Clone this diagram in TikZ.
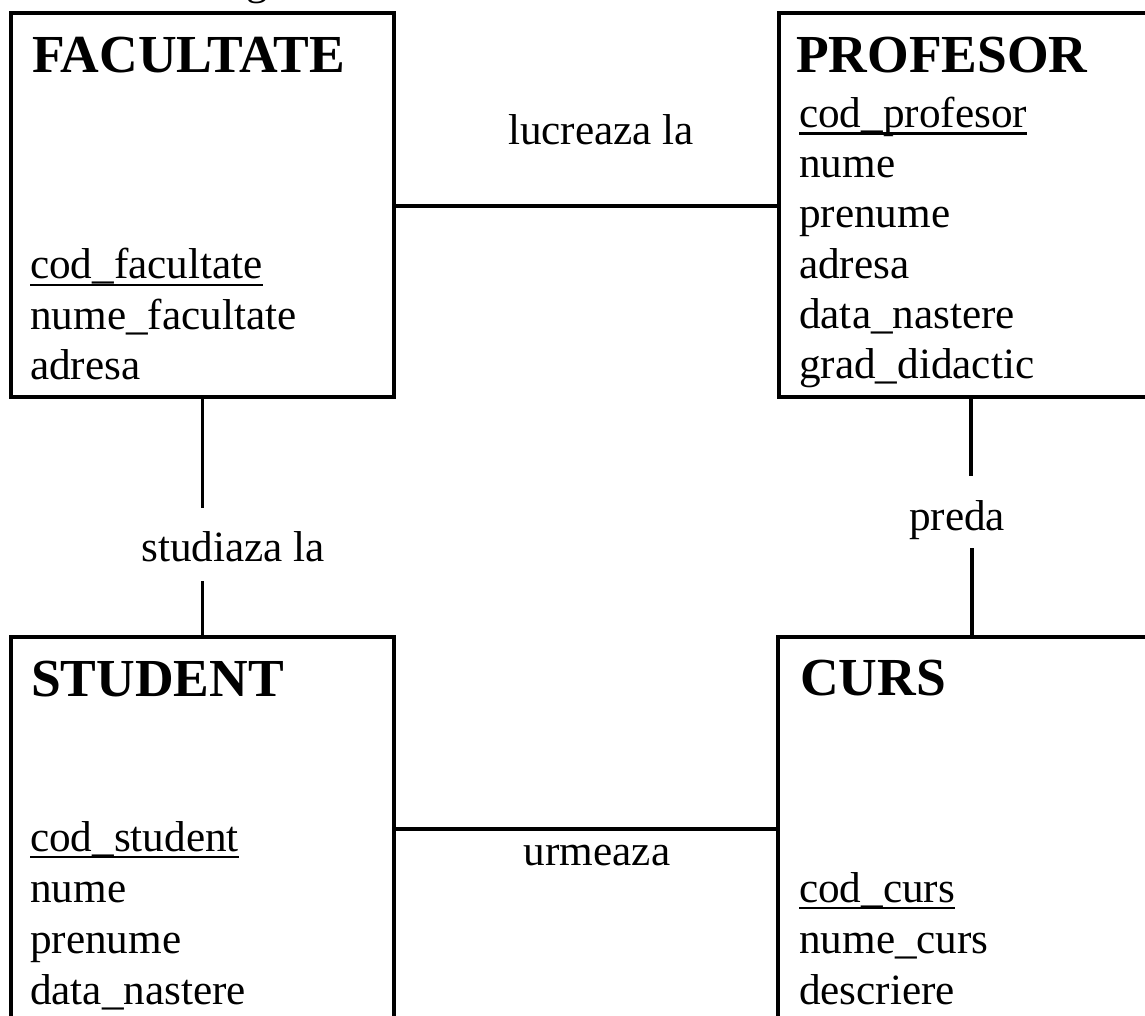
\documentclass[tikz,border=0pt]{standalone}
\usepackage{fontspec}
\setmainfont{Liberation Serif}
\newcommand{\myul}[1]{\setbox0\hbox{#1}\rlap{\vrule height -4.5pt depth 7pt width \wd0}\box0}
\begin{document}
\begin{tikzpicture}[x=1pt,y=-1pt,
  entity/.style={draw, line width=3.2pt, rectangle, anchor=north west, inner sep=0pt, outer sep=0pt},
  ttl/.style={anchor=base west, inner sep=0pt, font=\fontsize{53.5}{60}\selectfont\bfseries},
  attr/.style={anchor=base west, inner sep=0pt, font=\fontsize{43.2}{50}\selectfont},
  lbl/.style={anchor=base, inner sep=0pt, font=\fontsize{43.2}{50}\selectfont},
  conn/.style={line width=3.2pt}]
\useasboundingbox (0,0) rectangle (1145,1016);
\clip (0,0) rectangle (1145,1016);
% cropped text fragment at the top
\node[lbl] (frag) at (257,-5) {g};
% entities
\node[entity, minimum width=383pt, minimum height=384pt] (fac) at (11,13) {};
\node[entity, minimum width=384pt, minimum height=384pt] (prof) at (779,13) {};
\node[entity, minimum width=383pt, minimum height=460pt] (stud) at (11,637) {};
\node[entity, minimum width=388pt, minimum height=460pt] (curs) at (778,637) {};
% FACULTATE
\node[ttl] (facT) at (32,73) {FACULTATE};
\node[attr] (fa1) at (30,279) {\myul{cod\_facultate}};
\node[attr] (fa2) at (30,329) {nume\_facultate};
\node[attr] (fa3) at (30,379) {adresa};
% PROFESOR
\node[ttl] (profT) at (796,73) {PROFESOR};
\node[attr] (pa1) at (799,128) {\myul{cod\_profesor}};
\node[attr] (pa2) at (799,178) {nume};
\node[attr] (pa3) at (799,228) {prenume};
\node[attr] (pa4) at (799,278) {adresa};
\node[attr] (pa5) at (799,328) {data\_nastere};
\node[attr] (pa6) at (799,378) {grad\_didactic};
% STUDENT
\node[ttl] (studT) at (31,696) {STUDENT};
\node[attr] (sa1) at (30,851) {\myul{cod\_student}};
\node[attr] (sa2) at (30,902) {nume};
\node[attr] (sa3) at (30,953) {prenume};
\node[attr] (sa4) at (30,1004) {data\_nastere};
% CURS
\node[ttl] (cursT) at (800,695) {CURS};
\node[attr] (ca1) at (799,902) {\myul{cod\_curs}};
\node[attr] (ca2) at (799,953) {nume\_curs};
\node[attr] (ca3) at (799,1004) {descriere};
% relationship labels
\node[lbl] (l1) at (601,145) {lucreaza la};
\node[lbl] (l2) at (233,561) {studiaza la};
\node[lbl] (l3) at (957,530) {preda};
\node[lbl] (l4) at (597,865) {urmeaza};
% connectors
\draw[conn] ([yshift=-193pt]fac.north east) -- ([yshift=-193pt]prof.north west);
\draw[conn] ([yshift=-192pt]stud.north east) -- ([yshift=-192pt]curs.north west);
\draw[conn] (fac.south) -- ++(0,111) coordinate (fe);
\draw[conn] (stud.north) -- ++(0,-56) coordinate (se);
\draw[conn] (prof.south) -- ++(0,79) coordinate (pe);
\draw[conn] (curs.north) -- ++(0,-89) coordinate (ce);
\end{tikzpicture}
\end{document}
